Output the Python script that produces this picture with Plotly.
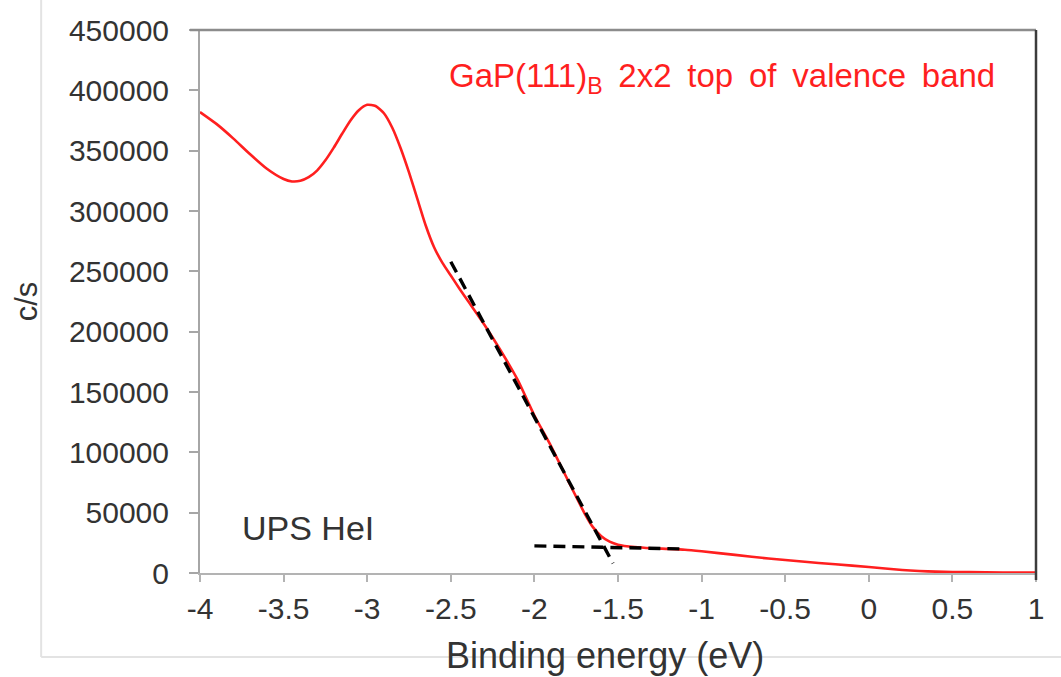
import plotly.graph_objects as go

# UPS HeI valence-band spectrum of GaP(111)B 2x2
binding_energy = [-4.0, -3.9, -3.8, -3.7, -3.6, -3.5, -3.45, -3.4, -3.35, -3.3, -3.25, -3.2,
                  -3.15, -3.1, -3.05, -3.0, -2.95, -2.9, -2.85, -2.8, -2.75, -2.7, -2.65,
                  -2.6, -2.55, -2.5, -2.45, -2.4, -2.3, -2.2, -2.1, -2.0, -1.9,
                  -1.8, -1.7, -1.65, -1.6, -1.55, -1.5, -1.4, -1.3, -1.2, -1.1,
                  -1.0, -0.8, -0.6, -0.4, -0.2, 0.0, 0.2, 0.3, 0.4, 0.6, 0.8, 1.0]
counts = [382000, 372000, 360000, 347000, 335000, 326500, 324500, 325000, 328000, 333500, 342000, 352500,
          364000, 375000, 383500, 388000, 387000, 381000, 369000, 352000, 332000, 310000, 288000,
          270000, 257000, 246500, 236000, 226000, 206000, 184000, 160000, 130500, 105000,
          77000, 49500, 38000, 30500, 26000, 23500, 21500, 20500, 20000, 19300,
          18000, 15000, 12000, 9500, 7200, 5000, 2500, 1600, 1100, 700, 400, 300]

# Linear extrapolations used to locate the valence-band maximum
edge_fit_e = [-2.5, -1.53]
edge_fit_v = [258000, 8000]
bg_fit_e = [-2.0, -1.13]
bg_fit_v = [22500, 20000]

x_ticks = [-4, -3.5, -3, -2.5, -2, -1.5, -1, -0.5, 0, 0.5, 1]
x_tick_text = ["-4", "-3.5", "-3", "-2.5", "-2", "-1.5", "-1", "-0.5", "0", "0.5", "1"]
y_ticks = [0, 50000, 100000, 150000, 200000, 250000, 300000, 350000, 400000, 450000]
y_tick_text = [str(v) for v in y_ticks]

FONT = "Arial, 'Liberation Sans', sans-serif"
TXT = "#333333"
SP = "\u2009 "  # slightly widened word gap

fig = go.Figure()
fig.add_trace(go.Scatter(x=binding_energy, y=counts, mode="lines",
                         line=dict(color="#ff1f1f", width=2.6, shape="spline", smoothing=0.6),
                         showlegend=False, hoverinfo="skip"))
fig.add_trace(go.Scatter(x=edge_fit_e, y=edge_fit_v, mode="lines",
                         line=dict(color="black", width=3.4, dash="12px,7px"),
                         showlegend=False, hoverinfo="skip"))
fig.add_trace(go.Scatter(x=bg_fit_e, y=bg_fit_v, mode="lines",
                         line=dict(color="black", width=3.4, dash="12px,7px"),
                         showlegend=False, hoverinfo="skip"))

fig.update_layout(
    width=1061, height=677,
    margin=dict(l=200, r=25, t=30, b=104),
    paper_bgcolor="white", plot_bgcolor="white",
    font=dict(family=FONT, color=TXT),
    xaxis=dict(range=[-4, 1], tickvals=x_ticks, ticktext=x_tick_text,
               showgrid=False, zeroline=False, showline=True, linecolor="#b3b3b3", linewidth=2,
               ticks="outside", ticklen=7, tickwidth=2, tickcolor="#b3b3b3",
               tickfont=dict(size=30, color=TXT, family=FONT), ticklabelstandoff=1),
    yaxis=dict(range=[0, 450000], tickvals=y_ticks, ticktext=y_tick_text,
               showgrid=False, zeroline=False, showline=True, linecolor="#a6a6a6", linewidth=2,
               ticks="outside", ticklen=9, tickwidth=2, tickcolor="#a6a6a6",
               tickfont=dict(size=30, color=TXT, family=FONT), ticklabelstandoff=14,
               title=dict(text="c/s", font=dict(size=31, color=TXT, family=FONT), standoff=22)),
    shapes=[
        # top and right frame of the plot area
        dict(type="line", xref="paper", yref="paper", x0=-0.012, x1=1, y0=1, y1=1,
             line=dict(color="#8c8c8c", width=2.5)),
        dict(type="line", xref="paper", yref="paper", x0=1, x1=1, y0=-0.013, y1=1,
             line=dict(color="#3c3c3c", width=2.5)),
        # light outer frame
        dict(type="line", xref="paper", yref="paper", x0=-0.19, x1=-0.19, y0=-0.1547, y1=1.06,
             line=dict(color="#e3e3e3", width=2)),
        dict(type="line", xref="paper", yref="paper", x0=-0.19, x1=1.04, y0=-0.1547, y1=-0.1547,
             line=dict(color="#e3e3e3", width=2)),
    ],
    annotations=[
        # x-axis title
        dict(x=0.4844, y=-0.152, xref="paper", yref="paper", xanchor="center", yanchor="middle",
             text="Binding energy (eV)", showarrow=False,
             font=dict(size=36, color=TXT, family=FONT)),
        dict(x=-2.523, y=410200, xref="x", yref="y", xanchor="left", yanchor="middle",
             text="GaP(111)<sub>B</sub>" + SP + "2x2" + SP + "top" + SP + "of" + SP
                  + "valence" + SP + "band",
             showarrow=False, font=dict(size=33, color="#ff1f1f", family=FONT)),
        dict(x=-3.76, y=37300, xref="x", yref="y", xanchor="left", yanchor="middle",
             text="UPS HeI", showarrow=False,
             font=dict(size=34, color=TXT, family=FONT)),
    ],
)

fig.write_html("out.html")
